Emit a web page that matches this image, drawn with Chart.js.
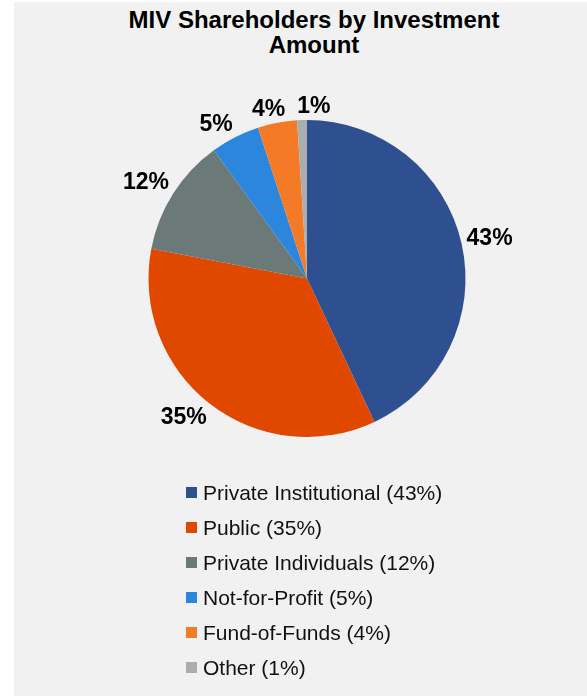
<!DOCTYPE html>
<html>
<head>
<meta charset="utf-8">
<script src="https://cdn.jsdelivr.net/npm/chart.js@4"></script>
<style>
  html, body { margin: 0; padding: 0; background: #fff; }
  body { width: 587px; height: 696px; position: relative; overflow: hidden; font-family: "Liberation Sans", Arial, sans-serif; }
  .panel { position: absolute; left: 14px; top: 2px; right: 0; bottom: 0; background: #f1f1f1; }
  .title { position: absolute; left: 14px; width: 600px; top: 7px; text-align: center; font-weight: bold; font-size: 24px; line-height: 25px; color: #000; }
  #chart-wrap { position: absolute; left: 0; top: 70px; width: 587px; height: 410px; }
  .legend { position: absolute; left: 186px; top: 475px; }
  .legend-item { height: 35px; display: flex; align-items: center; font-size: 21px; color: #111; }
  .legend-box { width: 11px; height: 11px; margin-right: 6px; flex: none; }
</style>
</head>
<body>
<div class="panel"></div>
<div class="title">MIV Shareholders by Investment<br>Amount</div>
<div id="chart-wrap"><canvas id="pie" width="587" height="410"></canvas></div>
<div class="legend" id="legend"></div>
<script>
// --- data ---
const categories = ['Private Institutional', 'Public', 'Private Individuals', 'Not-for-Profit', 'Fund-of-Funds', 'Other'];
const shares = [43, 35, 12, 5, 4, 1];
const colors = ['#2e5090', '#e04800', '#6b7a78', '#2b86dc', '#f47a28', '#a9afac'];

const LABEL_FONT = 'bold 23px "Liberation Sans", Arial, sans-serif';

// outside-end percentage labels: the inner corner of the text box sits on the
// slice's mid-angle ray just outside the pie; colliding labels are pushed apart
const outsideLabels = {
  id: 'outsideLabels',
  afterDatasetsDraw(chart) {
    const ctx = chart.ctx;
    const meta = chart.getDatasetMeta(0);
    const gap = 5, capH = 18;
    const sat = v => Math.max(-1, Math.min(1, v / 0.4));
    const placed = [];
    ctx.save();
    ctx.font = LABEL_FONT;
    ctx.fillStyle = '#000';
    ctx.textAlign = 'center';
    ctx.textBaseline = 'middle';
    meta.data.forEach((arc, i) => {
      const p = arc.getProps(['x', 'y', 'startAngle', 'endAngle', 'outerRadius'], true);
      const mid = (p.startAngle + p.endAngle) / 2;
      const dx = Math.cos(mid), dy = Math.sin(mid);
      const text = shares[i] + '%';
      const hw = ctx.measureText(text).width / 2, hh = capH / 2;
      const d = p.outerRadius + gap;
      let cx = p.x + d * dx + hw * sat(dx);
      let cy = p.y + d * dy + hh * sat(dy);
      placed.forEach(b => {
        if (Math.abs(cy - b.cy) < hh + b.hh && Math.abs(cx - b.cx) < hw + b.hw + 12) {
          cx = b.cx + b.hw + hw + 12;
        }
      });
      placed.push({ cx, cy, hw, hh });
      ctx.fillText(text, cx, cy + 1);
    });
    ctx.restore();
  }
};

new Chart(document.getElementById('pie'), {
  type: 'pie',
  data: {
    labels: categories,
    datasets: [{
      data: shares,
      backgroundColor: colors,
      borderWidth: 0,
      hoverBorderWidth: 0,
      hoverOffset: 0,
      offset: 0
    }]
  },
  options: {
    responsive: false,
    animation: false,
    layout: { padding: { left: 148.5, right: 121.5, top: 50, bottom: 43 } },
    plugins: {
      legend: { display: false },
      tooltip: { enabled: false },
      title: { display: false }
    }
  },
  plugins: [outsideLabels]
});

// legend built from the same arrays
document.getElementById('legend').innerHTML = categories.map((c, i) => `
  <div class="legend-item">
    <span class="legend-box" style="background:${colors[i]}"></span>
    <span>${c} (${shares[i]}%)</span>
  </div>
`).join('');
</script>
</body>
</html>
